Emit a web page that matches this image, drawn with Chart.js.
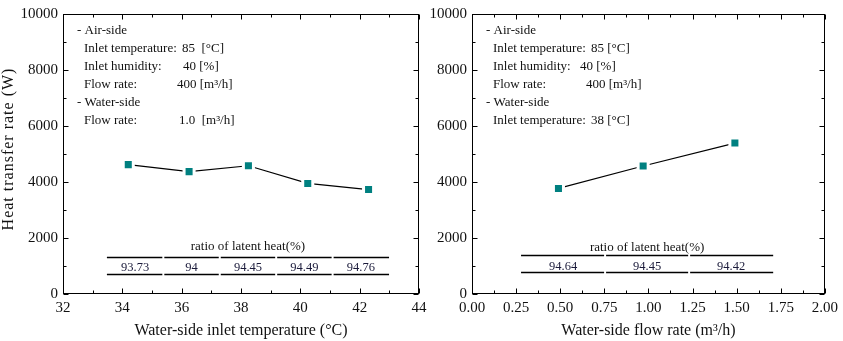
<!DOCTYPE html>
<html><head><meta charset="utf-8">
<script src="https://cdn.jsdelivr.net/npm/chart.js@4.4.1/dist/chart.umd.min.js"></script>
<style>
html,body{margin:0;padding:0;background:#fff;width:843px;height:341px;overflow:hidden}
canvas{position:absolute;top:0}
#c1{left:0}
#c2{left:420px}
</style></head><body>
<canvas id="c1" width="440" height="341"></canvas>
<canvas id="c2" width="423" height="341"></canvas>
<script>
// ---- data ----
const tempX = [34.2, 36.25, 38.25, 40.25, 42.3];
const tempHeat = [4620, 4370, 4580, 3950, 3730];
const tempLatent = ['93.73', '94', '94.45', '94.49', '94.76'];
const flowX = [0.49, 0.97, 1.49];
const flowHeat = [3770, 4570, 5390];
const flowLatent = ['94.64', '94.45', '94.42'];
const latentTitle = 'ratio of latent heat(%)';
const yTitle = 'Heat transfer rate (W)';
const tempXTitle = 'Water-side inlet temperature (°C)';
const flowXTitle = 'Water-side flow rate (m³/h)';
const tempNotes = [
  ['- Air-side', ''],
  ['Inlet temperature:', '85  [°C]'],
  ['Inlet humidity:', '40 [%]'],
  ['Flow rate:', '400 [m³/h]'],
  ['- Water-side', ''],
  ['Flow rate:', '1.0  [m³/h]']
];
const flowNotes = [
  ['- Air-side', ''],
  ['Inlet temperature:', '85 [°C]'],
  ['Inlet humidity:', '40 [%]'],
  ['Flow rate:', '400 [m³/h]'],
  ['- Water-side', ''],
  ['Inlet temperature:', '38 [°C]']
];

const FONT = '"Liberation Serif","Times New Roman",serif';
const TEAL = '#008080';

function decor(cfg){
  return {
    id:'decor',
    afterDraw(chart){
      const ctx = chart.ctx, a = chart.chartArea;
      const xs = chart.scales.x, ys = chart.scales.y;
      ctx.save();
      // frame
      ctx.strokeStyle = '#000'; ctx.lineWidth = 1;
      const L = Math.round(a.left)+0.5, R = Math.round(a.right)-0.5,
            T = Math.round(a.top)+0.5, B = Math.round(a.bottom)-0.5;
      ctx.strokeRect(L, T, R-L, B-T);
      // ticks (inward, all four sides)
      ctx.beginPath();
      const eps = 1e-9;
      for (let v = xs.min; v <= xs.max + eps; v += cfg.xMinor){
        const major = Math.abs(Math.round((v - xs.min)/cfg.xMajor)*cfg.xMajor - (v - xs.min)) < 1e-6;
        const len = major ? 5 : 3;
        const p = Math.round(xs.getPixelForValue(v)) + 0.5;
        ctx.moveTo(p, B); ctx.lineTo(p, B - len);
        ctx.moveTo(p, T); ctx.lineTo(p, T + len);
      }
      for (let v = ys.min; v <= ys.max + eps; v += cfg.yMinor){
        const major = Math.abs(Math.round(v/cfg.yMajor)*cfg.yMajor - v) < 1e-6;
        const len = major ? 5 : 3;
        const p = Math.round(ys.getPixelForValue(v)) + 0.5;
        ctx.moveTo(L, p); ctx.lineTo(L + len, p);
        ctx.moveTo(R, p); ctx.lineTo(R - len, p);
      }
      ctx.stroke();

      // annotation text block
      ctx.fillStyle = '#111';
      ctx.font = '13px ' + FONT;
      ctx.textBaseline = 'alphabetic';
      ctx.textAlign = 'left';
      cfg.notes.forEach((n, i) => {
        const y = 34 + 18*i;
        const isHead = n[0].startsWith('-');
        ctx.fillText(n[0], a.left + (isHead ? 14 : 21), y);
        if (n[1]) ctx.fillText(n[1], a.left + cfg.valX[i], y);
      });

      // latent heat table
      const t = cfg.table;
      const x0 = xs.getPixelForValue(t.from), x1 = xs.getPixelForValue(t.to);
      const n = t.values.length, w = (x1 - x0)/n;
      ctx.textAlign = 'center';
      ctx.font = '13px ' + FONT;
      ctx.fillText(t.title, (x0 + x1)/2, t.titleY);
      ctx.lineWidth = 1.4;
      ctx.beginPath();
      for (let i = 0; i < n; i++){
        const l = x0 + i*w + (i ? 1 : 0), r = x0 + (i+1)*w - (i < n-1 ? 1 : 0);
        ctx.moveTo(l, t.y1); ctx.lineTo(r, t.y1);
        ctx.moveTo(l, t.y2); ctx.lineTo(r, t.y2);
      }
      ctx.stroke();
      ctx.font = '12.5px ' + FONT;
      ctx.fillStyle = '#1a1a3a';
      t.values.forEach((v, i) => ctx.fillText(v, x0 + (i+0.5)*w, t.valY));

      // axis titles
      ctx.fillStyle = '#111';
      ctx.font = '16px ' + FONT;
      ctx.textAlign = 'center';
      ctx.fillText(cfg.xTitle, (a.left + a.right)/2, 335);
      if (cfg.yTitle){
        ctx.save();
        ctx.translate(13, 149);
        ctx.rotate(-Math.PI/2);
        ctx.letterSpacing = '1px';
        ctx.fillText(cfg.yTitle, 0, 0);
        ctx.restore();
      }
      ctx.restore();
    }
  };
}

function makeChart(id, xs, ys, xOpt, yWidth, padRight, cfg){
  return new Chart(document.getElementById(id), {
    type: 'scatter',
    data: { datasets: [{
      data: xs.map((x, i) => ({x, y: ys[i]})),
      showLine: true,
      borderColor: '#000',
      borderWidth: 1.2,
      pointStyle: 'rect',
      pointRadius: 7.1,
      pointBackgroundColor: TEAL,
      pointBorderColor: '#fff',
      pointBorderWidth: 3,
      tension: 0
    }]},
    options: {
      responsive: false,
      animation: false,
      events: [],
      layout: { autoPadding: false, padding: { top: 9, right: padRight, bottom: 0, left: 0 } },
      plugins: { legend: { display: false }, tooltip: { enabled: false } },
      scales: {
        x: Object.assign({
          type: 'linear',
          grid: { display: true, drawOnChartArea: false, drawTicks: false },
          border: { display: false },
          afterFit(s){ s.height = 47; }
        }, xOpt),
        y: {
          type: 'linear', min: 0, max: 10000,
          grid: { display: true, drawOnChartArea: false, drawTicks: false },
          border: { display: false },
          ticks: { stepSize: 2000, padding: 5, color: '#111', font: { family: FONT, size: 15 },
                   callback: v => String(v) },
          afterFit(s){ s.width = yWidth; }
        }
      }
    },
    plugins: [decor(cfg)]
  });
}

makeChart('c1', tempX, tempHeat, {
  min: 32, max: 44,
  ticks: { stepSize: 2, padding: 5, color: '#111', font: { family: FONT, size: 15 }, maxRotation: 0,
           callback: v => String(v) }
}, 63, 21, {
  xMajor: 2, xMinor: 1, yMajor: 2000, yMinor: 1000,
  notes: tempNotes, valX: [0, 119, 120, 114, 0, 116],
  table: { title: latentTitle, values: tempLatent, from: 33.48, to: 42.99, y1: 257.5, y2: 274.5, titleY: 250, valY: 271 },
  xTitle: tempXTitle, yTitle: yTitle
});

makeChart('c2', flowX, flowHeat, {
  min: 0, max: 2,
  ticks: { stepSize: 0.25, padding: 5, color: '#111', font: { family: FONT, size: 15 }, maxRotation: 0,
           callback: v => Number(v).toFixed(2) }
}, 52, 14, {
  xMajor: 0.25, xMinor: 0.125, yMajor: 2000, yMinor: 1000,
  notes: flowNotes, valX: [0, 119, 108, 114, 0, 119],
  table: { title: latentTitle, values: flowLatent, from: 0.278, to: 1.707, y1: 255.5, y2: 272.5, titleY: 251, valY: 270 },
  xTitle: flowXTitle, yTitle: null
});
</script>
</body></html>
